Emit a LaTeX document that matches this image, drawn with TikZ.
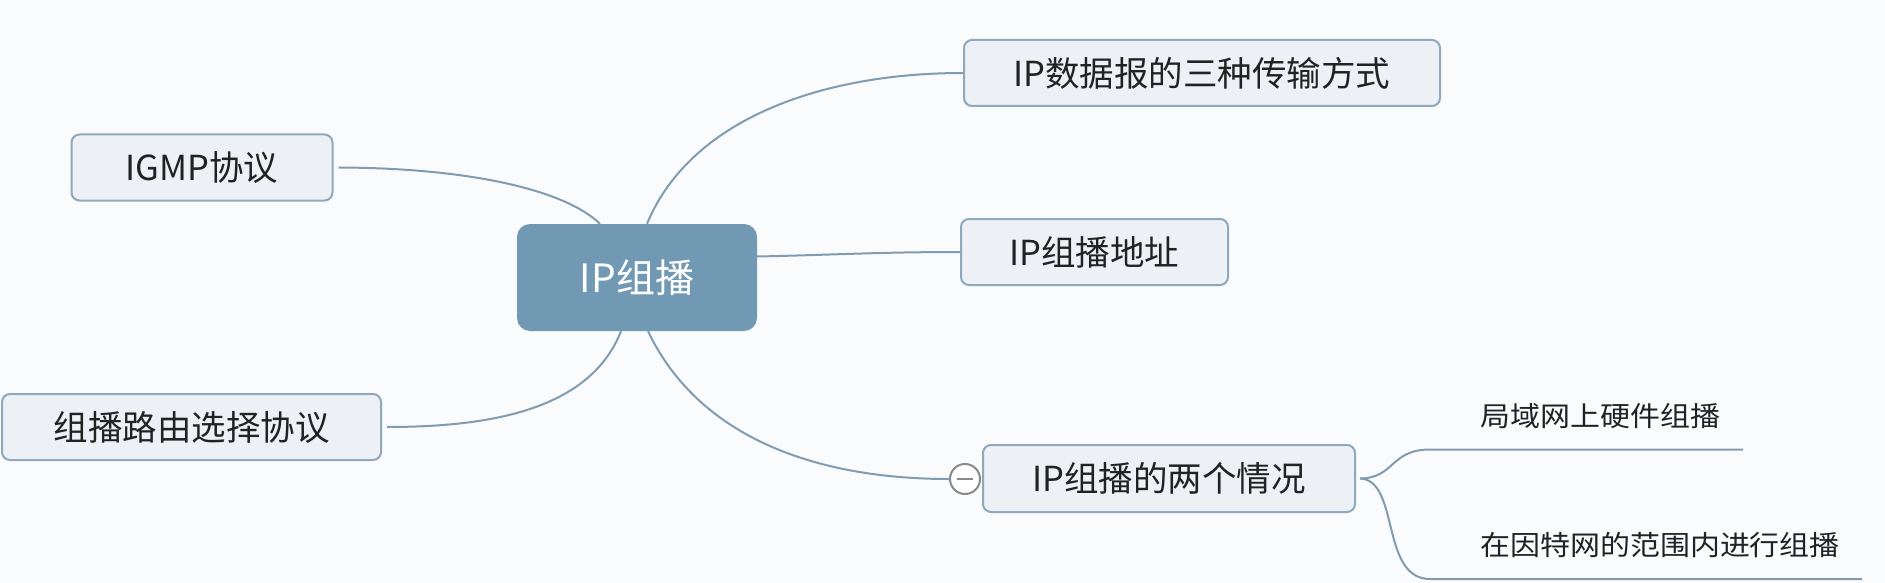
\documentclass[tikz,border=0pt]{standalone}
\usepackage{fontspec}
\newfontfamily\cjk{Noto Sans CJK SC}
\definecolor{bgc}{HTML}{FAFBFC}
\definecolor{rootfill}{HTML}{7299B4}
\definecolor{boxfill}{HTML}{EDF1F5}
\definecolor{boxdraw}{HTML}{8EA8BD}
\definecolor{linec}{HTML}{7F9CB2}
\definecolor{txt}{HTML}{222222}
\definecolor{collapse}{HTML}{8A8A8A}
\begin{document}
\begin{tikzpicture}[x=1pt,y=-1pt,
  rootbox/.style={rectangle, rounded corners=13pt, fill=rootfill, draw=none,
    minimum width=240pt, minimum height=107pt, inner sep=0pt,
    text=white, font=\cjk\fontsize{39}{42}\selectfont},
  topicbox/.style={rectangle, rounded corners=8pt, fill=boxfill, draw=boxdraw,
    line width=2pt, inner sep=0pt, text=txt,
    font=\cjk\fontsize{34.5}{38}\selectfont},
  subtext/.style={inner sep=0pt, anchor=west, text=txt,
    font=\cjk\fontsize{27.5}{30}\selectfont},
  conn/.style={draw=linec, line width=2pt},
  knob/.style={circle, fill=white, draw=collapse, line width=2pt,
    minimum size=30pt, inner sep=0pt}
]
\fill[bgc] (0,0) rectangle (1885,583);
\useasboundingbox (0,0) rectangle (1885,583);

% root
\node[rootbox] (root) at (637,277.5) {IP组播};

% topics
\node[topicbox, minimum width=261pt, minimum height=66pt] (igmp) at (202,167.5) {IGMP协议};
\node[topicbox, minimum width=379pt, minimum height=66pt] (route) at (191.5,427) {组播路由选择协议};
\node[topicbox, minimum width=476pt, minimum height=66pt] (three) at (1202,73) {IP数据报的三种传输方式};
\node[topicbox, minimum width=267pt, minimum height=66pt] (addr) at (1094.5,252) {IP组播地址};
\node[topicbox, minimum width=372pt, minimum height=67pt] (two) at (1169,478.5) {IP组播的两个情况};

% collapse knob
\node[knob] (knob) at (965,479) {};
\draw[collapse, line width=2pt] ([xshift=-8pt]knob.center) -- ([xshift=8pt]knob.center);

% sub texts
\node[subtext] (lan) at (1480,416) {\scalebox{1.09}[1]{局域网上硬件组播}};
\node[subtext] (inet) at (1480,545) {\scalebox{1.09}[1]{在因特网的范围内进行组播}};

% connector coordinates
\coordinate (rtA) at ([xshift=-37pt]root.north);
\coordinate (rtB) at ([xshift=10pt]root.north);
\coordinate (rbA) at ([xshift=-16pt]root.south);
\coordinate (rbB) at ([xshift=11pt]root.south);
\coordinate (reA) at ([yshift=21pt]root.east);
\coordinate (lanL) at (1743,449.5);
\coordinate (inetL) at (1862,579);

% connectors
\draw[conn] ([xshift=5pt]igmp.east) .. controls (470,168) and (565,190) .. (rtA);
\draw[conn] (rtB) .. controls (690,120) and (820,73) .. (three.west);
\draw[conn] (reA) .. controls (830,255) and (880,252) .. (addr.west);
\draw[conn] (rbB) .. controls (700,440) and (820,479) .. (knob.west);
\draw[conn] (rbA) .. controls (590,410) and (490,427) .. ([xshift=5pt]route.east);
\draw[conn] ([xshift=4pt]two.east) .. controls (1395,478) and (1390,449.5) .. (1430,449.5) -- (lanL);
\draw[conn] ([xshift=4pt]two.east) .. controls (1400,480) and (1380,579) .. (1430,579) -- (inetL);
\end{tikzpicture}
\end{document}
